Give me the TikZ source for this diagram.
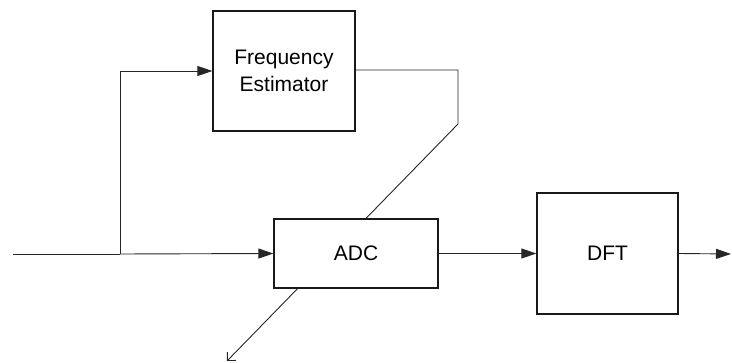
\documentclass[tikz,border=0pt]{standalone}
\usepackage{fontspec}
\setmainfont{Liberation Sans}
\usetikzlibrary{arrows.meta,backgrounds}

\tikzset{
    block/.style={draw=black!90, line width=1.3pt, fill=white, align=center,
        font=\fontsize{21}{27}\selectfont, inner sep=0pt},
    sig/.style={draw=black!85, line width=0.9pt},
    fwd/.style={sig, -{Triangle[length=15pt,width=10pt]}},
    clk/.style={sig, -{Straight Barb[length=6pt,width=12pt]}}
}

\begin{document}
\begin{tikzpicture}[x=1pt,y=-1pt]
    \useasboundingbox (0,0) rectangle (732,363);

    % Blocks
    \node[block, minimum width=142pt, minimum height=120pt] (freq) at (284,71) {Frequency\\Estimator};
    \node[block, minimum width=164pt, minimum height=69pt] (adc) at (356,253.5) {ADC};
    \node[block, minimum width=141pt, minimum height=121pt] (dft) at (607.5,253.5) {DFT};

    % Signal points
    \coordinate (in) at (13,254);
    \coordinate (tap) at (120,254);
    \coordinate (out) at (731,254);
    \coordinate (corner) at (458,70);
    \coordinate (bend) at (458,124);
    \coordinate (clkout) at (227,361);

    % Signal path
    \draw[sig] (in) -- (tap);
    \draw[fwd] (tap) -- (adc.west);
    \draw[fwd] (tap) |- (freq.west);
    \draw[fwd] (adc.east) -- (dft.west);
    \draw[fwd] (dft.east) -- (out);

    % Sampling clock through the ADC
    \begin{scope}[on background layer]
        \draw[clk] (freq.east |- corner) -- (corner) -- (bend) -- (clkout);
    \end{scope}
\end{tikzpicture}
\end{document}
